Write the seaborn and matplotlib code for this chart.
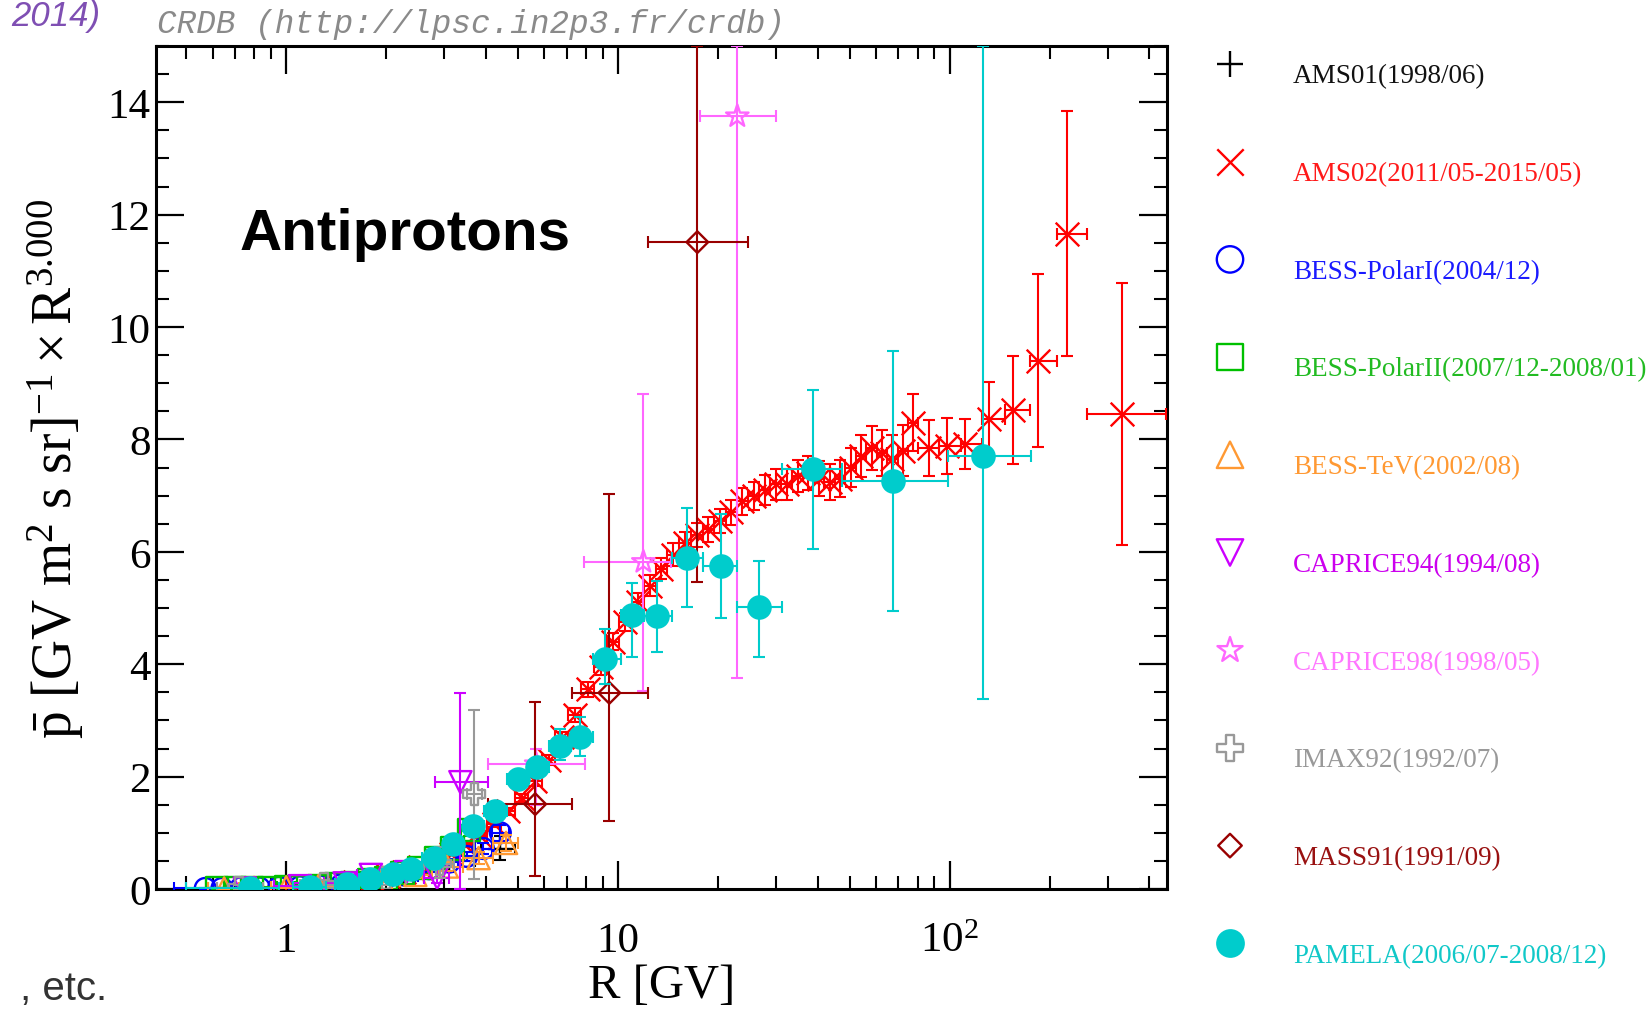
import numpy as np
import pandas as pd
import matplotlib
matplotlib.use("Agg")
import matplotlib.pyplot as plt
import seaborn as sns
from matplotlib.ticker import (FixedLocator, FixedFormatter, LogLocator,
                               MultipleLocator, NullFormatter)

# ---------------------------------------------------------------------------
# Antiproton flux x R^3 from CRDB, one block of arrays per experiment
# (R in GV; y and its error band in [GV m^2 s sr]^-1 GV^3; x bands = bins)
# ---------------------------------------------------------------------------
ams01_R = [1.45, 2.2, 3.1, 4.4]
ams01_y = [0.07, 0.22, 0.50, 0.72]
ams01_ylo = [0.03, 0.12, 0.30, 0.52]
ams01_yhi = [0.12, 0.34, 0.72, 0.95]
ams01_xlo = [1.2, 1.8, 2.6, 3.86]
ams01_xhi = [1.8, 2.6, 3.7, 4.9]

ams02_edges = [1.00, 1.16, 1.33, 1.51, 1.71, 1.92, 2.15, 2.40, 2.67, 2.97,
               3.29, 3.64, 4.02, 4.43, 4.88, 5.37, 5.90, 6.47, 7.09, 7.76,
               8.48, 9.26, 10.1, 11.0, 12.0, 13.0, 14.1, 15.3, 16.6, 18.0,
               19.5, 21.1, 22.8, 24.7, 26.7, 28.8, 31.1, 33.5, 36.1, 38.9,
               41.9, 45.1, 48.5, 52.2, 56.1, 60.3, 64.8, 69.7, 74.9, 80.5,
               93.0, 108, 125, 147, 175, 211, 259, 450]
ams02_R = [1.08, 1.24, 1.42, 1.61, 1.81, 2.03, 2.27, 2.53, 2.82, 3.13,
           3.46, 3.83, 4.22, 4.65, 5.12, 5.63, 6.18, 6.78, 7.42, 8.11,
           8.86, 9.67, 10.5, 11.5, 12.5, 13.5, 14.7, 15.9, 17.3, 18.7,
           20.3, 21.9, 23.7, 25.7, 27.7, 29.9, 32.3, 34.8, 37.5, 40.4,
           43.5, 46.8, 50.3, 54.1, 58.2, 62.5, 67.2, 72.2, 77.6, 86.5,
           98.4, 111, 131, 155, 184, 226, 331]
ams02_y = [0.04, 0.06, 0.09, 0.13, 0.18, 0.24, 0.31, 0.40, 0.51, 0.63,
           0.78, 0.95, 1.15, 1.38, 1.62, 1.92, 2.30, 2.70, 3.10, 3.55,
           3.95, 4.40, 4.75, 5.10, 5.40, 5.70, 5.95, 6.15, 6.30, 6.40,
           6.55, 6.70, 6.90, 7.00, 7.10, 7.20, 7.20, 7.35, 7.40, 7.30,
           7.25, 7.30, 7.50, 7.70, 7.85, 7.75, 7.65, 7.80, 8.30, 7.85,
           7.88, 7.92, 8.36, 8.52, 9.40, 11.66, 8.45]
ams02_err = [0.01, 0.01, 0.01, 0.01, 0.01, 0.02, 0.02, 0.02, 0.03, 0.03,
             0.04, 0.04, 0.05, 0.06, 0.07, 0.08, 0.09, 0.10, 0.12, 0.13,
             0.14, 0.15, 0.16, 0.17, 0.18, 0.19, 0.20, 0.20, 0.21, 0.22,
             0.22, 0.23, 0.24, 0.25, 0.26, 0.27, 0.28, 0.29, 0.30, 0.31,
             0.32, 0.33, 0.35, 0.37, 0.39, 0.41, 0.43, 0.46, 0.50, 0.50,
             0.50, 0.45, 0.66, 0.96, 1.54, 2.18, 2.33]

bess1_R = [0.57, 0.64, 0.73, 0.83, 0.95, 1.10, 1.27, 1.47, 1.70, 1.97,
           2.30, 2.70, 3.10, 3.50, 3.93, 4.42]
bess1_y = [0.01, 0.01, 0.02, 0.02, 0.03, 0.04, 0.05, 0.08, 0.11, 0.16,
           0.24, 0.36, 0.48, 0.58, 0.72, 1.00]
bess1_ylo = [0.00, 0.00, 0.01, 0.01, 0.02, 0.03, 0.04, 0.06, 0.09, 0.13,
             0.20, 0.31, 0.42, 0.50, 0.62, 0.86]
bess1_yhi = [0.02, 0.02, 0.03, 0.03, 0.04, 0.05, 0.06, 0.10, 0.13, 0.19,
             0.28, 0.41, 0.54, 0.66, 0.82, 1.14]
bess1_xlo = [0.46, 0.60, 0.68, 0.78, 0.89, 1.02, 1.18, 1.37, 1.58, 1.83,
             2.13, 2.50, 2.90, 3.30, 3.72, 4.17]
bess1_xhi = [0.60, 0.68, 0.78, 0.89, 1.02, 1.18, 1.37, 1.58, 1.83, 2.13,
             2.50, 2.90, 3.30, 3.72, 4.17, 4.70]

bess2_R = [0.62, 0.70, 0.79, 0.89, 1.00, 1.12, 1.26, 1.41, 1.58, 1.78,
           2.00, 2.24, 2.52, 2.83, 3.17, 3.56]
bess2_y = [0.01, 0.01, 0.02, 0.02, 0.03, 0.04, 0.06, 0.08, 0.11, 0.15,
           0.20, 0.28, 0.38, 0.55, 0.72, 1.05]
bess2_ylo = [0.00, 0.00, 0.01, 0.01, 0.02, 0.03, 0.05, 0.07, 0.10, 0.13,
             0.18, 0.25, 0.34, 0.50, 0.65, 0.95]
bess2_yhi = [0.02, 0.02, 0.03, 0.03, 0.04, 0.05, 0.07, 0.09, 0.12, 0.17,
             0.22, 0.31, 0.42, 0.60, 0.79, 1.15]
bess2_xlo = [0.58, 0.66, 0.74, 0.84, 0.94, 1.06, 1.19, 1.33, 1.49, 1.68,
             1.89, 2.12, 2.38, 2.67, 3.00, 3.36]
bess2_xhi = [0.66, 0.74, 0.84, 0.94, 1.06, 1.19, 1.33, 1.49, 1.68, 1.89,
             2.12, 2.38, 2.67, 3.00, 3.36, 3.78]

besstev_R = [0.65, 0.80, 1.00, 1.25, 1.55, 1.95, 2.45, 3.05, 3.80, 4.60]
besstev_y = [0.01, 0.02, 0.03, 0.05, 0.08, 0.15, 0.25, 0.40, 0.55, 0.82]
besstev_ylo = [0.00, 0.01, 0.02, 0.03, 0.06, 0.12, 0.20, 0.32, 0.45, 0.68]
besstev_yhi = [0.02, 0.03, 0.04, 0.07, 0.10, 0.18, 0.30, 0.48, 0.65, 0.96]
besstev_xlo = [0.58, 0.72, 0.90, 1.12, 1.40, 1.75, 2.20, 2.75, 3.42, 4.20]
besstev_xhi = [0.72, 0.90, 1.12, 1.40, 1.75, 2.20, 2.75, 3.42, 4.20, 5.00]

cap94_R = [0.75, 1.10, 1.50, 1.80, 2.30, 2.85, 3.35]
cap94_y = [0.01, 0.05, 0.10, 0.25, 0.30, 0.20, 1.90]
cap94_ylo = [0.00, 0.02, 0.05, 0.15, 0.20, 0.10, 0.00]
cap94_yhi = [0.05, 0.10, 0.18, 0.32, 0.42, 0.35, 3.49]
cap94_xlo = [0.62, 0.92, 1.30, 1.64, 2.05, 2.60, 2.81]
cap94_xhi = [0.92, 1.30, 1.64, 1.96, 2.60, 3.10, 4.07]

cap98_R = [5.67, 11.93, 22.9]
cap98_y = [2.22, 5.82, 13.75]
cap98_ylo = [1.50, 3.52, 3.75]
cap98_yhi = [2.50, 8.81, 15.0]
cap98_xlo = [4.07, 7.92, 17.7]
cap98_xhi = [7.97, 14.5, 30.0]

imax_R = [0.72, 1.30, 2.00, 2.90, 3.69]
imax_y = [0.02, 0.08, 0.20, 0.45, 1.69]
imax_ylo = [0.00, 0.02, 0.08, 0.20, 0.18]
imax_yhi = [0.08, 0.16, 0.34, 0.75, 3.19]
imax_xlo = [0.62, 1.10, 1.75, 2.60, 3.50]
imax_xhi = [0.85, 1.55, 2.30, 3.20, 3.90]

mass_R = [5.63, 9.42, 17.35]
mass_y = [1.51, 3.49, 11.51]
mass_ylo = [0.23, 1.21, 5.46]
mass_yhi = [3.33, 7.03, 15.0]
mass_xlo = [4.07, 7.29, 12.35]
mass_xhi = [7.29, 12.35, 24.7]

pam_R = [0.78, 1.18, 1.53, 1.79, 2.10, 2.37, 2.78, 3.19, 3.66, 4.26,
         5.00, 5.70, 6.70, 7.70, 9.17, 11.05, 13.1, 16.2, 20.5, 26.7,
         38.6, 67.4, 125.6]
pam_y = [0.01, 0.04, 0.09, 0.18, 0.27, 0.36, 0.55, 0.80, 1.12, 1.39,
         1.96, 2.17, 2.54, 2.70, 4.09, 4.88, 4.86, 5.89, 5.75, 5.02,
         7.47, 7.26, 7.71]
pam_ylo = [0.00, 0.03, 0.08, 0.16, 0.25, 0.33, 0.51, 0.75, 1.05, 1.30,
           1.84, 2.02, 2.29, 2.37, 3.64, 4.13, 4.22, 5.02, 4.82, 4.13,
           6.05, 4.95, 3.38]
pam_yhi = [0.02, 0.05, 0.10, 0.20, 0.29, 0.39, 0.59, 0.85, 1.19, 1.48,
           2.08, 2.32, 2.84, 3.06, 4.63, 5.44, 5.48, 6.78, 6.67, 5.84,
           8.88, 9.58, 15.0]
pam_xlo = [0.50, 1.05, 1.40, 1.66, 1.95, 2.23, 2.57, 2.98, 3.42, 3.95,
           4.62, 5.34, 6.20, 7.20, 8.40, 10.2, 12.0, 14.6, 18.1, 22.9,
           31.2, 47.5, 99.0]
pam_xhi = [0.95, 1.32, 1.66, 1.95, 2.23, 2.57, 2.98, 3.42, 3.95, 4.62,
           5.34, 6.20, 7.20, 8.40, 10.2, 12.0, 14.6, 18.1, 22.9, 31.2,
           47.5, 99.0, 176.0]

labels = ["AMS01(1998/06)", "AMS02(2011/05-2015/05)", "BESS-PolarI(2004/12)",
          "BESS-PolarII(2007/12-2008/01)", "BESS-TeV(2002/08)",
          "CAPRICE94(1994/08)", "CAPRICE98(1998/05)", "IMAX92(1992/07)",
          "MASS91(1991/09)", "PAMELA(2006/07-2008/12)"]
colors = ["#000000", "#ff0000", "#0000ff", "#00c000", "#ff9933",
          "#cc00ff", "#ff66ff", "#999999", "#990000", "#00cccc"]
text_colors = ["#111111", "#ff1a1a", "#1a1aff", "#22bb22", "#ff9933",
               "#cc00ee", "#ff77ff", "#999999", "#991111", "#11c8c8"]
markers = ["+", "x", "o", "s", "^", "v", "*", "P", "D", "o"]
# marker drawing mode: 'line' (line art), 'open' (outline), 'solid'
modes = ["line", "line", "open", "open", "open", "open", "open", "open",
         "open", "solid"]
sizes = [17, 17, 15, 16, 16, 16, 17, 16, 11, 16]
key_sizes = [19, 19, 19, 19, 19, 19, 19, 19, 12, 19]

series = [
    (ams01_R, ams01_y, ams01_ylo, ams01_yhi, ams01_xlo, ams01_xhi),
    (ams02_R, ams02_y,
     list(np.array(ams02_y) - np.array(ams02_err)),
     list(np.array(ams02_y) + np.array(ams02_err)),
     ams02_edges[:-1], ams02_edges[1:]),
    (bess1_R, bess1_y, bess1_ylo, bess1_yhi, bess1_xlo, bess1_xhi),
    (bess2_R, bess2_y, bess2_ylo, bess2_yhi, bess2_xlo, bess2_xhi),
    (besstev_R, besstev_y, besstev_ylo, besstev_yhi, besstev_xlo, besstev_xhi),
    (cap94_R, cap94_y, cap94_ylo, cap94_yhi, cap94_xlo, cap94_xhi),
    (cap98_R, cap98_y, cap98_ylo, cap98_yhi, cap98_xlo, cap98_xhi),
    (imax_R, imax_y, imax_ylo, imax_yhi, imax_xlo, imax_xhi),
    (mass_R, mass_y, mass_ylo, mass_yhi, mass_xlo, mass_xhi),
    (pam_R, pam_y, pam_ylo, pam_yhi, pam_xlo, pam_xhi),
]

# ---------------------------------------------------------------------------
sns.set_theme(style="ticks")
plt.rcParams.update({
    "font.family": ["Liberation Serif", "DejaVu Serif"],
    "mathtext.fontset": "custom",
    "mathtext.rm": "Liberation Serif",
    "mathtext.it": "Liberation Serif:italic",
    "mathtext.bf": "Liberation Serif:bold",
    "axes.edgecolor": "black",
    "xtick.color": "black",
    "ytick.color": "black",
    "text.color": "black",
    "axes.labelcolor": "black",
})

W, H = 1651, 1012
fig = plt.figure(figsize=(W / 100, H / 100), dpi=100)
ax = fig.add_axes([156 / W, 1 - 890 / H, (1167 - 156) / W, (890 - 47) / H])


def marker_kws(mode, color, size):
    kw = dict(s=size ** 2, linewidth=1.7, legend=False)
    if mode == "line":
        kw.update(color=color)
    elif mode == "open":
        kw.update(color=color, facecolor="none", edgecolor=color)
    else:
        kw.update(color=color, edgecolor=color)
    return kw


for i, (R, y, ylo, yhi, xlo, xhi) in enumerate(series):
    R = np.asarray(R, float)
    y = np.asarray(y, float)
    yerr = [y - np.asarray(ylo, float), np.asarray(yhi, float) - y]
    xerr = [R - np.asarray(xlo, float), np.asarray(xhi, float) - R]
    ax.errorbar(R, y, yerr=yerr, xerr=xerr, fmt="none", ecolor=colors[i],
                elinewidth=1.5, capsize=4.3, capthick=1.5, zorder=2 + i)
    df = pd.DataFrame({"R": R, "flux": y})
    sns.scatterplot(data=df, x="R", y="flux", ax=ax, marker=markers[i],
                    zorder=2.5 + i, **marker_kws(modes[i], colors[i], sizes[i]))

ax.set_xscale("log")
ax.set_xlim(0.405, 452)
ax.set_ylim(0, 15)

ax.xaxis.set_major_locator(FixedLocator([1, 10, 100]))
ax.xaxis.set_major_formatter(FixedFormatter(["1", "10", r"$\mathregular{10^{2}}$"]))
ax.xaxis.set_minor_locator(LogLocator(base=10, subs=np.arange(2, 10)))
ax.xaxis.set_minor_formatter(NullFormatter())
ax.yaxis.set_major_locator(MultipleLocator(2))
ax.yaxis.set_minor_locator(MultipleLocator(0.5))

ax.tick_params(axis="both", which="both", direction="in", top=True, right=True,
               color="black")
ax.tick_params(axis="both", which="major", length=20, width=1.6, labelsize=31)
ax.tick_params(axis="both", which="minor", length=9.5, width=1.5)
ax.tick_params(axis="y", which="major", pad=4)
ax.tick_params(axis="x", which="major", pad=45)
for lab in ax.get_xticklabels():
    lab.set_verticalalignment("baseline")
for sp in ax.spines.values():
    sp.set_linewidth(2.2)
    sp.set_color("black")

ax.set_xlabel("R [GV]", fontsize=35)
ax.xaxis.set_label_coords(0.5, -0.088)
ax.set_ylabel(r"$\mathregular{\bar{p}\ [GV\ m^{2}\ s\ sr]^{-1} \times R^{3.000}}$",
              fontsize=40)
ax.yaxis.set_label_coords(-0.069, 0.5)

ax.text(0.083, 0.759, "Antiprotons", transform=ax.transAxes,
        family=["Liberation Sans", "DejaVu Sans"], weight="bold", fontsize=42,
        va="baseline", ha="left")

fig.text(157 / W, 1 - 33 / H, "CRDB (http://lpsc.in2p3.fr/crdb)",
         family=["Liberation Mono", "DejaVu Sans Mono"], style="italic",
         fontsize=23.5, color="#8a8a8a", va="baseline", ha="left")
fig.text(100 / W, 1 - 26 / H, "2014)", family=["Liberation Sans", "DejaVu Sans"],
         style="italic", fontsize=25, color="#7f4fb3", va="baseline", ha="right")
fig.text(107 / W, 1 - 1000 / H, ", etc.", family=["Liberation Sans", "DejaVu Sans"],
         fontsize=29, color="#333333", va="baseline", ha="right")

# Key on the right-hand side: one row per experiment
lg = fig.add_axes([0, 0, 1, 1], facecolor="none")
lg.set_xlim(0, W)
lg.set_ylim(H, 0)
lg.axis("off")
row0, step = 65, 97.7
for i, lab in enumerate(labels):
    yy = row0 + step * i
    kw = marker_kws(modes[i], colors[i], key_sizes[i])
    kw.pop("legend")
    lg.scatter([1230], [yy], marker=markers[i], **kw)
    lg.text(1293, yy + 12, lab, fontsize=19.5, color=text_colors[i],
            va="center", ha="left", family=["Liberation Serif", "DejaVu Serif"])

fig.savefig("out.png", dpi=100)
